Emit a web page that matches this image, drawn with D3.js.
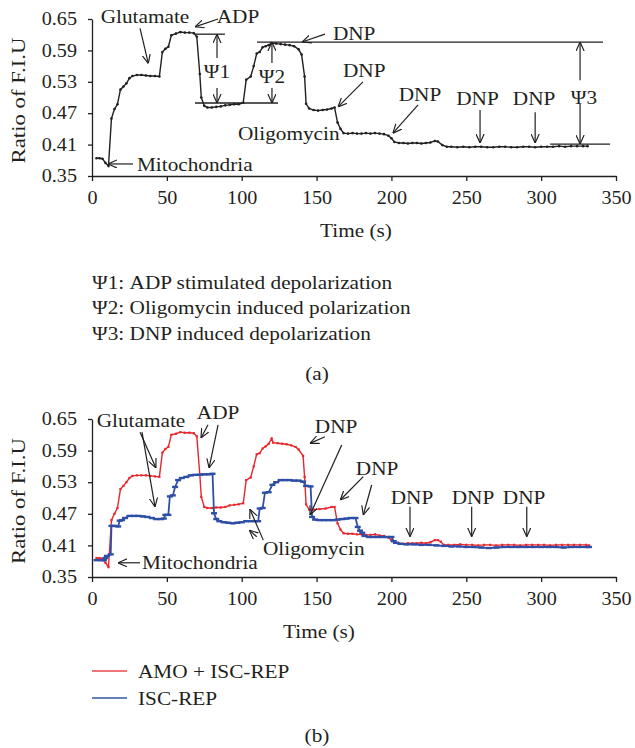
<!DOCTYPE html>
<html><head><meta charset="utf-8">
<script src="https://cdn.jsdelivr.net/npm/d3@7"></script>
<style>
body{margin:0;background:#fff}
text{font-family:"Liberation Serif","Times New Roman",serif;fill:#231f20}
</style>
</head><body>
<svg id="c" width="635" height="748"></svg>
<script>
// ---------- DATA ----------
const xTicks = [0, 50, 100, 150, 200, 250, 300, 350];
const yTicks = [0.35, 0.41, 0.47, 0.53, 0.59, 0.65];

// panel (a): [time (s), ratio of F.I.U]
const curveA = [[3,0.384],[5,0.384],[7,0.383],[9,0.375],[11,0.369],[13,0.460],[15,0.478],[17,0.487],[19,0.515],[21,0.521],[23,0.527],[25,0.537],[27,0.541],[30,0.543],[33,0.543],[36,0.542],[39,0.541],[42,0.541],[45,0.540],[47,0.587],[49,0.593],[51,0.597],[53,0.619],[56,0.622],[59,0.625],[62,0.624],[65,0.624],[68,0.623],[70,0.616],[72,0.545],[73,0.500],[75,0.484],[77,0.481],[80,0.481],[83,0.482],[86,0.483],[89,0.485],[92,0.486],[95,0.487],[98,0.487],[101,0.490],[103,0.534],[106,0.540],[108,0.560],[110,0.584],[112,0.587],[114,0.596],[116,0.598],[118,0.600],[120,0.604],[123,0.603],[126,0.602],[129,0.601],[132,0.600],[135,0.598],[138,0.592],[140,0.582],[142,0.540],[143,0.488],[145,0.479],[148,0.476],[151,0.475],[154,0.476],[157,0.477],[160,0.479],[162,0.481],[164,0.452],[166,0.440],[168,0.432],[171,0.431],[174,0.432],[177,0.431],[180,0.431],[183,0.432],[186,0.431],[189,0.432],[192,0.431],[195,0.430],[198,0.427],[200,0.422],[202,0.415],[205,0.413],[208,0.413],[211,0.412],[214,0.413],[217,0.413],[220,0.412],[223,0.413],[226,0.414],[229,0.417],[231,0.416],[234,0.409],[237,0.406],[240,0.406],[244,0.405],[248,0.406],[252,0.405],[256,0.406],[260,0.406],[264,0.405],[268,0.405],[272,0.406],[276,0.406],[280,0.405],[284,0.405],[288,0.406],[292,0.406],[296,0.405],[300,0.406],[304,0.406],[308,0.406],[312,0.407],[316,0.406],[320,0.407],[324,0.407],[328,0.407],[331,0.407]];

// panel (b)
const seriesNames = ["AMO + ISC-REP", "ISC-REP"];
const amoIsc = [[3,0.386],[5,0.386],[7,0.385],[9,0.377],[11,0.369],[13,0.458],[15,0.470],[17,0.481],[19,0.517],[21,0.523],[23,0.530],[25,0.538],[27,0.542],[30,0.543],[33,0.543],[36,0.543],[39,0.542],[42,0.541],[45,0.540],[47,0.586],[49,0.593],[51,0.597],[53,0.620],[56,0.622],[59,0.625],[62,0.624],[65,0.624],[68,0.623],[70,0.617],[72,0.545],[73,0.502],[75,0.483],[77,0.481],[80,0.481],[83,0.482],[86,0.482],[89,0.483],[92,0.486],[95,0.487],[98,0.488],[101,0.490],[103,0.534],[106,0.539],[108,0.560],[110,0.583],[112,0.585],[114,0.594],[116,0.598],[118,0.603],[120,0.613],[121,0.605],[124,0.604],[127,0.603],[130,0.602],[133,0.600],[136,0.597],[138,0.592],[141,0.580],[142,0.540],[143,0.488],[145,0.478],[148,0.478],[152,0.479],[156,0.480],[160,0.483],[162,0.483],[164,0.452],[166,0.440],[168,0.433],[171,0.432],[174,0.432],[177,0.431],[180,0.431],[183,0.430],[186,0.430],[189,0.431],[192,0.429],[195,0.428],[198,0.425],[200,0.420],[202,0.415],[205,0.414],[208,0.413],[211,0.414],[214,0.414],[217,0.414],[220,0.415],[223,0.414],[226,0.416],[229,0.420],[231,0.420],[233,0.417],[235,0.411],[238,0.411],[242,0.411],[246,0.412],[250,0.411],[254,0.411],[258,0.410],[262,0.411],[266,0.411],[270,0.410],[274,0.411],[278,0.411],[282,0.411],[286,0.410],[290,0.411],[294,0.411],[298,0.411],[302,0.411],[306,0.410],[310,0.411],[314,0.411],[318,0.411],[322,0.411],[326,0.411],[330,0.411],[332,0.410]];
const iscRep = [[3,0.382],[6,0.382],[8,0.382],[9,0.386],[10,0.390],[12.5,0.393],[13,0.447],[15,0.447],[17.5,0.446],[18.5,0.457],[20,0.458],[22,0.462],[25,0.466],[28,0.466],[31,0.466],[34,0.465],[37,0.464],[40,0.462],[43,0.460],[46,0.460],[48,0.461],[49,0.468],[51,0.468],[52,0.503],[54,0.505],[55.5,0.521],[57.5,0.534],[60,0.538],[63,0.540],[66,0.543],[69,0.544],[72,0.544],[75,0.545],[78,0.545],[80.5,0.546],[81.5,0.471],[83,0.460],[85,0.456],[88,0.454],[91,0.453],[94,0.452],[97,0.453],[100,0.454],[103,0.456],[106,0.456],[109,0.456],[111,0.456],[112,0.480],[114,0.481],[115.5,0.510],[118,0.511],[120.5,0.525],[123,0.530],[126,0.534],[129,0.534],[132,0.534],[135,0.533],[138,0.533],[141,0.531],[143,0.523],[146,0.522],[147,0.464],[149,0.459],[152,0.458],[155,0.458],[158,0.458],[161,0.458],[164,0.459],[167,0.460],[170,0.461],[173,0.462],[176,0.462],[177.5,0.445],[179,0.438],[180.5,0.434],[182,0.428],[185,0.426],[188,0.426],[191,0.426],[194,0.426],[197,0.426],[200,0.426],[201.5,0.418],[203,0.415],[206,0.413],[210,0.412],[215,0.412],[220,0.411],[225,0.411],[230,0.410],[235,0.409],[240,0.408],[245,0.408],[250,0.407],[255,0.407],[260,0.406],[265,0.405],[270,0.406],[275,0.407],[280,0.407],[285,0.407],[290,0.407],[295,0.407],[300,0.407],[305,0.407],[310,0.407],[315,0.406],[320,0.407],[325,0.407],[330,0.407],[332,0.407]];

const psiNotes = ["\u03A81: ADP stimulated depolarization", "\u03A82: Oligomycin induced polarization", "\u03A83: DNP induced depolarization"];

// annotations, in data units [time, ratio]
const labelsA = [
  ["Glutamate", 35.4, 0.654, "middle"], ["ADP", 97.5, 0.654, "middle"],
  ["DNP", 175.1, 0.623, "middle"], ["DNP", 181.8, 0.5525, "middle"], ["DNP", 219.1, 0.505, "middle"],
  ["DNP", 257.5, 0.499, "middle"], ["DNP", 295.3, 0.499, "middle"],
  ["Oligomycin", 97.5, 0.432, "start"], ["Mitochondria", 30, 0.373, "start"],
  ["\u03A81", 83.5, 0.549, "middle"], ["\u03A82", 120.2, 0.541, "middle"], ["\u03A83", 328.6, 0.501, "middle"]
];
const arrowsA = [
  [32.1,0.632,37.6,0.565], [84.2,0.650,68.8,0.635], [155.6,0.621,140.3,0.606],
  [181,0.530,164.3,0.482], [217.8,0.486,201,0.432], [259.2,0.476,259.2,0.413], [296,0.472,296,0.413],
  [27.4,0.373,10.7,0.373],
  [83.5,0.5755,83.5,0.621], [83.5,0.518,83.5,0.4895],
  [120.2,0.566,120.2,0.606], [120.2,0.518,120.2,0.4895],
  [326,0.533,326,0.606], [326,0.4875,326,0.411]
];
const refLinesA = [[68.8,88.8,0.621],[68.8,124.2,0.4895],[110.2,341.3,0.606],[306,346,0.411]];

const labelsB = [
  ["Glutamate", 32.7, 0.648, "middle"], ["ADP", 84.2, 0.663, "middle"],
  ["Oligomycin", 114.2, 0.405, "start"], ["Mitochondria", 33.4, 0.377, "start"],
  ["DNP", 163, 0.635, "middle"], ["DNP", 190.4, 0.557, "middle"], ["DNP", 213.7, 0.502, "middle"],
  ["DNP", 254.5, 0.502, "middle"], ["DNP", 288.6, 0.502, "middle"]
];
const arrowsB = [
  [32.1,0.625,42.7,0.557], [33.4,0.625,42.1,0.483],
  [77.5,0.639,72.8,0.614], [84.2,0.639,78.2,0.557],
  [114.4,0.420,105.5,0.4786], [110,0.4265,105.1,0.439],
  [32.1,0.377,17.4,0.377],
  [155.6,0.6164,145.6,0.6038], [166.8,0.6006,145.6,0.4677],
  [181.2,0.5405,165.8,0.4962], [186.8,0.5247,181.2,0.4677],
  [212.4,0.4835,212.4,0.4265], [253.6,0.4835,253.6,0.4265], [290.4,0.4835,290.4,0.4265]
];

// ---------- DRAW ----------
const SX = 1.12;
const INK = "#231f20";
const RED = "#e8262d", BLUE = "#2f4fa6";
const svg = d3.select("#c");
svg.append("rect").attr("width",635).attr("height",748).attr("fill","#fff");
const defs = svg.append("defs");
defs.append("marker").attr("id","ah").attr("viewBox","0 0 10 10").attr("refX",10).attr("refY",5)
  .attr("markerWidth",9).attr("markerHeight",9).attr("markerUnits","userSpaceOnUse").attr("orient","auto")
  .append("path").attr("d","M0,0.5 L10,5 L0,9.5").attr("fill","none").attr("stroke",INK).attr("stroke-width",1.3);

function txt(g, x, y, s, size, anchor) {
  return g.append("text").attr("transform", `translate(${x},${y}) scale(${SX},1)`)
    .attr("text-anchor", anchor || "middle").attr("dominant-baseline","central")
    .attr("font-size", size).text(s);
}

const x = d3.scaleLinear().domain([0,350]).range([92,616]);

function panel(top, bottom) {
  const y = d3.scaleLinear().domain([0.35,0.65]).range([bottom, top]);
  const g = svg.append("g");
  const ax = g.append("g").attr("transform",`translate(0,${bottom})`)
    .call(d3.axisBottom(x).tickValues(xTicks).tickSize(5).tickSizeOuter(0).tickFormat(d3.format("d")));
  ax.selectAll("text").attr("y",15).attr("dy","0.71em").attr("font-size",18)
    .attr("transform",`scale(${SX},1)`).attr("fill",INK);
  const ay = g.append("g").attr("transform",`translate(92,0)`)
    .call(d3.axisLeft(y).tickValues(yTicks).tickSize(4).tickSizeOuter(0).tickFormat(d3.format(".2f")));
  ay.selectAll("text").attr("x",0).attr("font-size",18)
    .attr("transform",`translate(-15,0) scale(${SX},1)`).attr("fill",INK);
  g.selectAll(".domain, .tick line").attr("stroke",INK).attr("stroke-width",1.3);
  g.selectAll(".tick text").attr("font-family",'"Liberation Serif","Times New Roman",serif');
  g.append("text").attr("transform",`translate(19,${(top+bottom)/2 + 3}) rotate(-90)`)
    .attr("text-anchor","middle").attr("dominant-baseline","central").attr("font-size",18)
    .attr("textLength",126).attr("lengthAdjust","spacingAndGlyphs").text("Ratio of F.I.U");
  return {g, y};
}

function annotate(p, labels, arrows) {
  labels.forEach(l => txt(p.g, x(l[1]), p.y(l[2]), l[0], 19, l[3]));
  arrows.forEach(a => p.g.append("line")
    .attr("x1",x(a[0])).attr("y1",p.y(a[1])).attr("x2",x(a[2])).attr("y2",p.y(a[3]))
    .attr("stroke",INK).attr("stroke-width",1.2).attr("marker-end","url(#ah)"));
}

// ---- panel (a)
const pA = panel(19, 176);
txt(pA.g, 356, 230, "Time (s)", 19);
refLinesA.forEach(r => pA.g.append("line").attr("x1",x(r[0])).attr("x2",x(r[1]))
  .attr("y1",pA.y(r[2])).attr("y2",pA.y(r[2])).attr("stroke",INK).attr("stroke-width",1.3));
const lineA = d3.line().x(d=>x(d[0])).y(d=>pA.y(d[1]));
pA.g.append("path").datum(curveA).attr("d",lineA).attr("fill","none").attr("stroke",INK).attr("stroke-width",1.4);
pA.g.selectAll("circle.m").data(curveA).join("circle").attr("class","m")
  .attr("cx",d=>x(d[0])).attr("cy",d=>pA.y(d[1])).attr("r",1.3).attr("fill",INK);
annotate(pA, labelsA, arrowsA);
psiNotes.forEach((s,i)=> txt(svg, 92, 282 + i*25.5, s, 19, "start"));
txt(svg, 317, 373, "(a)", 19);

// ---- panel (b)
const pB = panel(419, 577);
txt(pB.g, 319, 631, "Time (s)", 19);
const lineB = d3.line().x(d=>x(d[0])).y(d=>pB.y(d[1]));
pB.g.append("path").datum(amoIsc).attr("d",lineB).attr("fill","none").attr("stroke",RED).attr("stroke-width",1.4);
pB.g.selectAll("rect.r").data(amoIsc).join("rect").attr("class","r")
  .attr("x",d=>x(d[0])-1.1).attr("y",d=>pB.y(d[1])-1.1).attr("width",2.2).attr("height",2.2).attr("fill",RED);
pB.g.append("path").datum(iscRep).attr("d",lineB).attr("fill","none").attr("stroke",BLUE).attr("stroke-width",1.8);
pB.g.selectAll("rect.b").data(iscRep).join("rect").attr("class","b")
  .attr("x",d=>x(d[0])-3).attr("y",d=>pB.y(d[1])-1.2).attr("width",6).attr("height",2.4).attr("fill",BLUE);
annotate(pB, labelsB, arrowsB);

// legend
const legColors = ["#e8474c", "#3553a6"];
seriesNames.forEach((s,i)=>{
  const yy = 671 + i*27;
  svg.append("line").attr("x1",92).attr("x2",127).attr("y1",yy).attr("y2",yy)
    .attr("stroke",legColors[i]).attr("stroke-width",1.6);
  txt(svg, 138, yy, s, 19, "start");
});
txt(svg, 317, 735, "(b)", 19);
</script>
</body></html>
